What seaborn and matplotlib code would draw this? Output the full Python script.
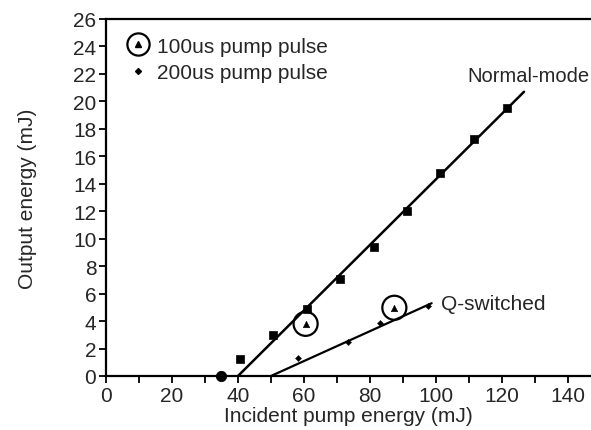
import numpy as np
import matplotlib
matplotlib.use("Agg")
import matplotlib.pyplot as plt
from matplotlib.lines import Line2D
from matplotlib.ticker import MultipleLocator
import seaborn as sns

# Normal-mode output (filled squares)
normal_x = [40.6, 50.6, 60.8, 70.8, 81.2, 91.1, 101.2, 111.6, 121.4]
normal_y = [1.24, 3.0, 4.9, 7.05, 9.37, 12.04, 14.8, 17.26, 19.54]

# threshold point on the axis
thresh_x = [35.0]
thresh_y = [0.0]

# Q-switched output, 200us pump pulse
qsw_x = [58.3, 73.4, 83.0, 97.7]
qsw_y = [1.3, 2.5, 3.84, 5.1]

# 100us pump pulse points (circled triangles)
p100_x = [60.5, 87.4]
p100_y = [3.8, 4.97]

# fitted lines
normal_fit_x = [40.0, 126.7]
normal_fit_y = [0.0, 20.7]
qsw_fit_x = [50.0, 98.7]
qsw_fit_y = [0.0, 5.3]

sns.set_style("ticks")
plt.rcParams['font.family'] = ['Liberation Sans', 'DejaVu Sans']
plt.rcParams['font.size'] = 15

fig = plt.figure(figsize=(5.91, 4.31), dpi=100)
ax = fig.add_axes([106 / 591, 54 / 431, 485 / 591, 357 / 431])

sns.lineplot(x=normal_fit_x, y=normal_fit_y, color='black', lw=1.8, ax=ax)
sns.lineplot(x=qsw_fit_x, y=qsw_fit_y, color='black', lw=1.6, ax=ax)

sns.scatterplot(x=normal_x, y=normal_y, marker='s', s=38, color='black',
                edgecolor='black', ax=ax, zorder=3)
sns.scatterplot(x=thresh_x, y=thresh_y, marker='o', s=55, color='black',
                edgecolor='black', ax=ax, zorder=3, clip_on=False)
sns.scatterplot(x=qsw_x, y=qsw_y, marker='D', s=10, color='black',
                edgecolor='black', ax=ax, zorder=3)
sns.scatterplot(x=p100_x, y=p100_y, marker='o', s=300, facecolor='none',
                edgecolor='black', linewidth=1.6, ax=ax, zorder=3)
sns.scatterplot(x=p100_x, y=p100_y, marker='^', s=22, color='black',
                edgecolor='black', ax=ax, zorder=4)

ax.text(101.5, 5.25, 'Q-switched', va='center', ha='left', fontsize=15)
ax.text(146.5, 21.85, 'Normal-mode', va='center', ha='right', fontsize=14.5)

# legend
h_circle = Line2D([], [], marker='o', ls='none', ms=16, mfc='none',
                  mec='black', mew=1.6)
h_tri = Line2D([], [], marker='^', ls='none', ms=4.5, color='black')
h_dot = Line2D([], [], marker='D', ls='none', ms=3, color='black')
ax.legend([(h_circle, h_tri), h_dot], ['100us pump pulse', '200us pump pulse'],
          loc='upper left', bbox_to_anchor=(0.0, 1.0), frameon=False,
          fontsize=15, handletextpad=0.2, labelspacing=0.35,
          borderaxespad=0.45, handlelength=1.4)

ax.set_xlim(0, 147)
ax.set_ylim(0, 26)
ax.xaxis.set_major_locator(MultipleLocator(20))
ax.xaxis.set_minor_locator(MultipleLocator(10))
ax.yaxis.set_major_locator(MultipleLocator(2))
ax.tick_params(axis='both', which='both', direction='out', color='black',
               width=1.3, labelsize=15, pad=2)
ax.tick_params(which='major', length=5)
ax.tick_params(which='minor', length=5)

for side in ['left', 'bottom', 'top']:
    ax.spines[side].set_linewidth(1.6)
    ax.spines[side].set_color('black')
ax.spines['right'].set_visible(False)

ax.set_xlabel('Incident pump energy (mJ)', fontsize=15, labelpad=1)
ax.set_ylabel('Output energy (mJ)', fontsize=15, labelpad=26)

fig.savefig('out.png', dpi=100)
